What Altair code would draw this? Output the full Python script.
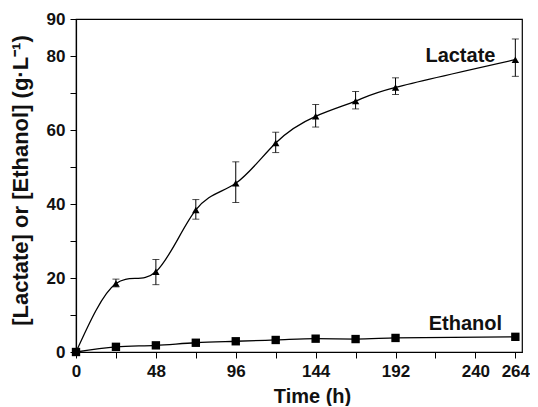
import altair as alt
import pandas as pd

time = [0, 24, 48, 72, 96, 120, 144, 168, 192, 264]
lactate = [0, 18.5, 21.7, 38.4, 45.6, 56.5, 63.7, 67.8, 71.5, 79.0]
lactate_hi = [0, 19.7, 25.0, 41.2, 51.4, 59.4, 66.9, 70.4, 74.1, 84.6]
lactate_lo = [0, 17.6, 18.2, 35.9, 40.4, 53.9, 60.8, 65.7, 69.6, 74.5]
ethanol = [0, 1.4, 1.8, 2.5, 2.9, 3.25, 3.6, 3.5, 3.8, 4.1]
ethanol_hi = [0, 1.4, 1.8, 2.5, 2.9, 3.25, 3.6, 3.5, 3.8, 4.7]
ethanol_lo = [0, 1.4, 1.8, 2.5, 2.9, 3.25, 3.6, 3.5, 3.8, 3.5]

label_text = ["Lactate", "Ethanol"]
label_x = [231, 234]
label_y = [78.3, 6.0]

x_ticks = [0, 24, 48, 72, 96, 120, 144, 168, 192, 216, 240, 264]
y_ticks = [0, 10, 20, 30, 40, 50, 60, 70, 80, 90]

FONT = "Liberation Sans"

lac = pd.DataFrame({"t": time, "v": lactate, "hi": lactate_hi, "lo": lactate_lo})
eth = pd.DataFrame({"t": time, "v": ethanol, "hi": ethanol_hi, "lo": ethanol_lo})
labels = pd.DataFrame({"text": label_text, "x": label_x, "y": label_y})

xs = alt.Scale(domain=[0, 268], nice=False, zero=False)
ys = alt.Scale(domain=[0, 90.001], nice=False)

xenc = alt.X("t:Q", scale=xs, axis=alt.Axis(
    values=x_ticks, tickCount=30, title="Time (h)", grid=False,
    labelExpr="(datum.value % 48 == 0 || datum.value == 264) ? datum.label : ''",
    labelFlush=False, labelOverlap=False,
    tickSize=6, labelPadding=5, titlePadding=7, titleX=236))
yenc = alt.Y("v:Q", scale=ys, axis=alt.Axis(
    values=y_ticks, tickCount=30, title="[Lactate] or [Ethanol] (g·L⁻¹)", grid=False,
    labelExpr="(datum.value % 20 == 0 || datum.value == 90) ? datum.label : ''",
    labelFlush=False, labelOverlap=False,
    tickSize=6, labelPadding=5, titlePadding=14, titleY=161))


def series(df, shape, size, interp):
    base = alt.Chart(df)
    line = base.mark_line(color="black", strokeWidth=1.3, interpolate=interp).encode(x=xenc, y=yenc)
    err = base.mark_rule(color="black", strokeWidth=1).encode(x="t:Q", y="lo:Q", y2="hi:Q")
    cap_hi = base.mark_tick(color="black", orient="horizontal", size=7, thickness=1).encode(x="t:Q", y="hi:Q")
    cap_lo = base.mark_tick(color="black", orient="horizontal", size=7, thickness=1).encode(x="t:Q", y="lo:Q")
    pts = base.mark_point(shape=shape, size=size, filled=True, color="black", opacity=1).encode(x="t:Q", y="v:Q")
    return [line, err, cap_hi, cap_lo, pts]


txt = alt.Chart(labels).mark_text(font=FONT, fontWeight="bold", fontSize=20,
                                  align="center", baseline="alphabetic", color="#111").encode(
    x="x:Q", y="y:Q", text="text:N")

layers = series(lac, "triangle-up", 55, "natural") + series(eth, "square", 70, "monotone") + [txt]

chart = alt.layer(*layers).properties(
    width=446, height=333,
    autosize=alt.AutoSizeParams(type="none"),
    padding={"left": 68, "top": 11, "right": 8, "bottom": 54},
).configure_view(stroke="black", strokeWidth=1.2).configure_axis(
    domainColor="black", domainWidth=1.2, tickColor="black", tickWidth=1,
    labelFont=FONT, labelFontWeight="bold", labelFontSize=17, labelColor="#111",
    titleFont=FONT, titleFontWeight="bold", titleFontSize=20, titleColor="#111",
).configure_axisY(titleFontSize=22)

chart.save("out.html", embed_options={"renderer": "svg", "actions": False})
